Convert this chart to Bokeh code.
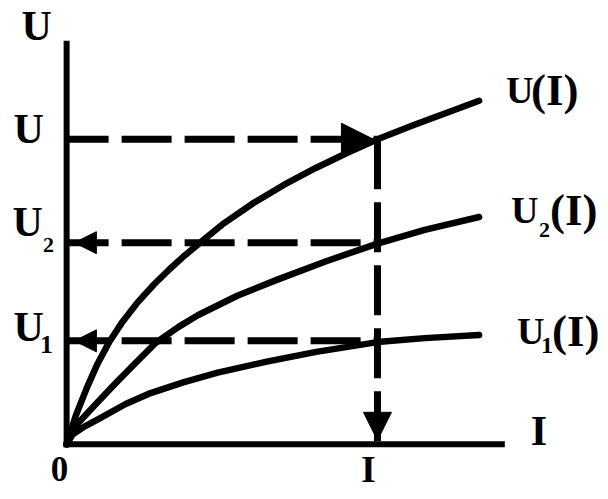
from bokeh.plotting import figure
from bokeh.models import Arrow, NormalHead
from bokeh.core.properties import value
from bokeh.embed import file_html
from bokeh.resources import INLINE

# ---- data (I, U); I_mark = 1, U = 1 ----
I_u = [0, 0.03, 0.065, 0.10, 0.137, 0.18, 0.23, 0.28, 0.33, 0.38, 0.432,
       0.5, 0.6, 0.7, 0.8, 0.9, 1.0, 1.121, 1.232, 1.327]
U_u = [0, 0.095, 0.185, 0.265, 0.335, 0.402, 0.467, 0.523, 0.573, 0.619, 0.663,
       0.72, 0.79, 0.851, 0.905, 0.954, 1.0, 1.048, 1.090, 1.126]

I_u2 = [0, 0.019, 0.041, 0.089, 0.152, 0.216, 0.286, 0.359, 0.422, 0.549, 0.676,
        0.835, 1.0, 1.152, 1.327]
U_u2 = [0, 0.042, 0.074, 0.126, 0.194, 0.261, 0.332, 0.384, 0.423, 0.487, 0.539,
        0.6, 0.658, 0.703, 0.745]

I_u1 = [0, 0.019, 0.057, 0.105, 0.19, 0.263, 0.375, 0.486, 0.644, 0.803, 1.0, 1.152, 1.327]
U_u1 = [0, 0.032, 0.058, 0.084, 0.132, 0.165, 0.203, 0.235, 0.271, 0.303, 0.335, 0.348, 0.358]

I_mark = 1.0
U_levels = [1.0, 0.661, 0.339]      # U, U2, U1
axis_I_max = 1.4
axis_U_max = 1.313

FONT = value("Liberation Serif")

p = figure(width=600, height=491, x_range=(-0.2127, 1.7175), y_range=(-0.1548, 1.4548),
           output_backend="svg", toolbar_location=None,
           x_axis_type=None, y_axis_type=None, min_border=0)
p.outline_line_color = None
p.background_fill_color = "white"
p.border_fill_color = "white"

# axes
p.segment(x0=[0, 0], y0=[0, 0], x1=[0, axis_I_max], y1=[axis_U_max, 0],
          line_width=6, line_color="black", line_cap="square")

# dashed guide lines
p.segment(x0=[0, 0, 0], y0=U_levels, x1=[I_mark] * 3, y1=U_levels,
          line_width=7, line_color="black", line_dash="50 13", line_dash_offset=8)
p.segment(x0=[I_mark], y0=[U_levels[0]], x1=[I_mark], y1=[0],
          line_width=7, line_color="black", line_dash="50 13")

# curves
for xs, ys in [(I_u, U_u), (I_u2, U_u2), (I_u1, U_u1)]:
    p.line(xs, ys, line_width=6.5, line_color="black", line_join="round", line_cap="round")

# arrows
def arrow(xs, ys, xe, ye, size):
    p.add_layout(Arrow(end=NormalHead(size=size, fill_color="black", line_color="black"),
                       x_start=xs, y_start=ys, x_end=xe, y_end=ye, line_alpha=0))

arrow(I_mark - 0.15, U_levels[0], I_mark - 0.013, U_levels[0], 32)
arrow(0.15, U_levels[1], 0.025, U_levels[1], 22)
arrow(0.15, U_levels[2], 0.025, U_levels[2], 22)
arrow(I_mark, 0.15, I_mark, 0.013, 28)

def label(x, y, s, size, dx, dy, align="center"):
    p.text(x=[x], y=[y], text=[s], x_offset=dx, y_offset=dy, text_font=FONT,
           text_font_style="bold", text_font_size=f"{size}px", text_align=align,
           text_baseline="alphabetic", text_color="black")

# left labels
label(0, axis_U_max, "U", 42, -30, -18)
label(0, U_levels[0], "U", 42, -38, -10)
label(0, U_levels[1], "U", 42, -39, -21)
label(0, U_levels[1], "2", 22, -18, 2)
label(0, U_levels[2], "U", 42, -38, -14)
label(0, U_levels[2], "1", 26, -20, 4)
# bottom / right axis labels
label(0, 0, "0", 35, -7, 25)
label(I_mark, 0, "I", 38, -9, 25)
label(axis_I_max, 0, "I", 42, 37, -13)

# curve labels
xe = I_u[-1]
label(xe, U_u[-1], "U", 38, 27, -11, "left")
label(xe, U_u[-1], "(I)", 45, 52, -11, "left")
label(xe, U_u2[-1], "U", 38, 32, -7, "left")
label(xe, U_u2[-1], "2", 22, 60, 13, "left")
label(xe, U_u2[-1], "(I)", 45, 71, -7, "left")
label(xe, U_u1[-1], "U", 38, 38, -4, "left")
label(xe, U_u1[-1], "1", 24, 62, 10, "left")
label(xe, U_u1[-1], "(I)", 45, 73, -4, "left")

open("out.html", "w").write(file_html(p, INLINE))
